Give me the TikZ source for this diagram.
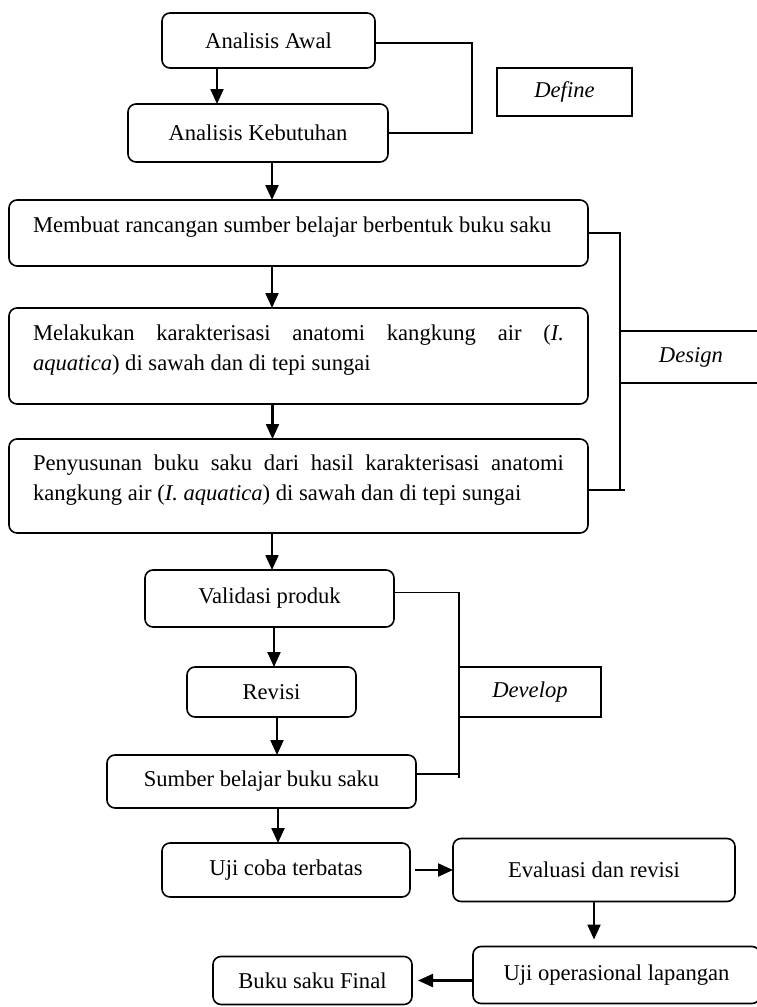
\documentclass[tikz,border=0pt]{standalone}
\usepackage{fontspec}
\setmainfont{Liberation Serif}
\usetikzlibrary{arrows.meta, positioning}
\newcommand{\ekorteks}{\par\vspace{11pt}}

\begin{document}
\begin{tikzpicture}[
        x=1pt, y=-1pt,
        node distance=38pt,
        font=\fontsize{22.6}{30}\selectfont,
        langkah/.style={draw, rounded corners=8pt, line width=1.6pt, outer sep=0pt, align=center, minimum height=55pt},
        lebar/.style={langkah, text width=531pt, inner xsep=24pt, align=justify, execute at end node=\ekorteks},
        tahap/.style={draw, line width=1.4pt, outer sep=0pt, minimum height=50pt, font=\fontsize{22.6}{30}\selectfont\itshape},
        panah/.style={-{Triangle[length=15pt, width=13pt]}, line width=2.2pt},
        garis/.style={line width=1.4pt}
    ]
    \useasboundingbox (0,0) rectangle (756,1007);
    \node[langkah, minimum width=213pt] (awal) at (268.5,40.5) {Analisis Awal};
    \node[langkah, minimum width=260pt, minimum height=58pt, below=36pt of awal, xshift=-10.5pt] (kebutuhan) {Analisis Kebutuhan};
    \node[lebar, minimum height=66pt, below=38pt of kebutuhan, xshift=40.5pt] (rancangan) {Membuat rancangan sumber belajar berbentuk buku saku};
    \node[lebar, minimum height=96pt, below=42pt of rancangan] (karakterisasi) {Melakukan karakterisasi anatomi kangkung air (\textit{I.}\linebreak \textit{aquatica}) di sawah dan di tepi sungai};
    \node[lebar, minimum height=94pt, below=35pt of karakterisasi] (penyusunan) {Penyusunan buku saku dari hasil karakterisasi anatomi\linebreak kangkung air (\textit{I. aquatica}) di sawah dan di tepi sungai};
    \node[langkah, minimum width=249pt, minimum height=57pt, below=37pt of penyusunan, xshift=-29pt] (validasi) {Validasi produk};
    \node[langkah, minimum width=169pt, minimum height=50pt, below=40pt of validasi, xshift=2pt] (revisi) {Revisi};
    \node[langkah, minimum width=309pt, minimum height=53pt, below=38pt of revisi, xshift=-10pt] (sumber) {Sumber belajar buku saku};
    \node[langkah, minimum width=248pt, minimum height=54pt, below=35pt of sumber, xshift=24.5pt] (ujicoba) {Uji coba terbatas};
    \node[langkah, minimum width=282pt, minimum height=63pt, right=43pt of ujicoba] (evaluasi) {Evaluasi dan revisi};
    \node[langkah, minimum width=287pt, minimum height=57pt, below=45pt of evaluasi, xshift=22.5pt] (ujiop) {Uji operasional lapangan};
    \node[langkah, minimum width=199pt, minimum height=48pt, left=61pt of ujiop, yshift=-5.5pt] (final) {Buku saku Final};

    % tahapan 4D
    \node[tahap, minimum width=135pt, minimum height=48pt] (define) at (564.5,92) {Define};
    \node[tahap, minimum width=142pt, minimum height=52pt] (design) at (691,357) {Design};
    \node[tahap, minimum width=142pt] (develop) at (530,692) {Develop};

    \coordinate (jdef) at (472,43);
    \coordinate (jdes) at (620,490);
    \coordinate (jdev) at (459,774);
    \draw[garis] (awal.east |- jdef) -- (jdef) |- (kebutuhan.east);
    \draw[garis] (rancangan.east) -| (jdes);
    \draw[garis] (penyusunan.east |- jdes) -- ([xshift=5pt]jdes);
    \draw[garis] ([yshift=6pt]validasi.east) -| (jdev);
    \draw[garis] (sumber.east |- jdev) -- (jdev) -- ++(0,4);

    \draw[panah] ([xshift=-51.5pt]awal.south) -- ([xshift=-51.5pt]awal.south |- kebutuhan.north);
    \draw[panah] ([xshift=14pt]kebutuhan.south) -- ([xshift=14pt]kebutuhan.south |- rancangan.north);
    \draw[panah] ([xshift=-26.5pt]rancangan.south) -- ([xshift=-26.5pt]rancangan.south |- karakterisasi.north);
    \draw[panah] ([xshift=-26pt]karakterisasi.south) -- ([xshift=-26pt]karakterisasi.south |- penyusunan.north);
    \draw[panah] ([xshift=2.5pt]validasi.north |- penyusunan.south) -- ([xshift=2.5pt]validasi.north);
    \draw[panah] ([xshift=2.5pt]revisi.north |- validasi.south) -- ([xshift=2.5pt]revisi.north);
    \draw[panah] ([xshift=5.5pt]revisi.south) -- ([xshift=5.5pt]revisi.south |- sumber.north);
    \draw[panah] ([xshift=-8pt]ujicoba.north |- sumber.south) -- ([xshift=-8pt]ujicoba.north);
    \draw[panah, shorten <=5pt] (ujicoba.east) -- (evaluasi.west);
    \draw[panah, shorten >=7pt] (evaluasi.south) -- (evaluasi.south |- ujiop.north);
    \draw[panah, shorten >=6pt] (ujiop.west |- final.east) -- (final.east);
\end{tikzpicture}
\end{document}
